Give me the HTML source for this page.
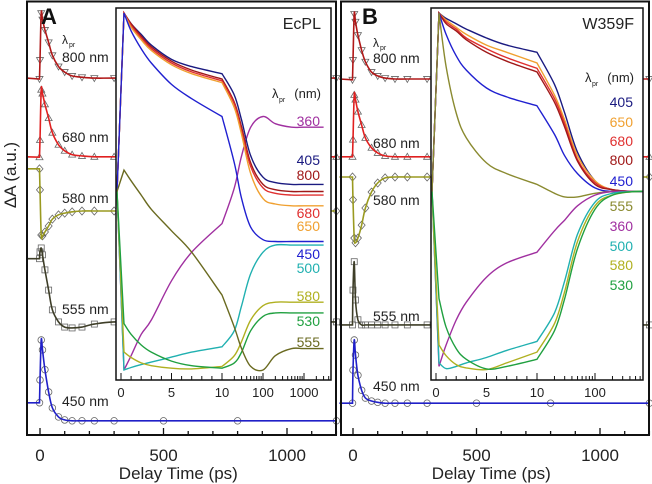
<!DOCTYPE html>
<html><head><meta charset="utf-8"><style>
body{margin:0;background:#fff;}
svg{display:block;font-family:"Liberation Sans",sans-serif;}
</style></head><body>
<svg id="fig" width="652" height="484" viewBox="0 0 652 484">
<defs>
<clipPath id="clipA"><rect x="116" y="8" width="214" height="372"/></clipPath>
<clipPath id="clipB"><rect x="430" y="8" width="213" height="371"/></clipPath>
</defs>
</svg>
<script>
// ---- main traces data ----
const mainTimes = [-55,-2,0,5,10,20,35,50,75,100,130,170,220,300,500,800,1200];
const labelsMain = ["800 nm","680 nm","580 nm","555 nm","450 nm"];
const offsetsA = [8.30,6.47,5.21,2.63,0.33];
const a800 = [0,-0.02,0.42,1.51,1.36,1.12,0.83,0.53,0.27,0.14,0.05,0.02,0,0,0,0,0];
const a680 = [0,-0.01,0.39,1.56,1.47,1.22,0.9,0.56,0.28,0.14,0.05,0.02,0,0,0,0,0];
const a580 = [0.98,0.98,0.49,-0.56,-0.58,-0.49,-0.35,-0.19,-0.09,-0.05,-0.02,0,0,0,0,0,0];
const a555 = [1.47,1.47,1.63,1.72,1.56,1.21,0.74,0.28,0,-0.12,-0.14,-0.12,-0.05,0,0,0,0];
const a450 = [0.42,0.42,0.95,1.88,1.65,1.19,0.67,0.3,0.09,0.02,0,0,0,0,0,0,0];
const offsetsB = [8.28,6.47,6.0,2.56,0.74];
const b800 = [0,-0.02,0.44,1.51,1.33,1.02,0.67,0.4,0.16,0.07,0.02,0,0,0,0,0,0];
const b680 = [0,0,0.4,1.44,1.33,1.05,0.74,0.44,0.21,0.09,0.02,0,0,0,0,0,0];
const b580 = [0,0,-0.53,-1.42,-1.53,-1.42,-1.12,-0.72,-0.35,-0.14,-0.02,0,0,0,0,0,0];
const b555 = [0,0,0.81,1.47,0.58,0.12,0,0,0,0,0,0,0,0,0,0,0];
const b450 = [0,0,0.77,1.47,1.12,0.65,0.3,0.12,0.05,0.02,0,0,0,0,0,0,0];
const mainTicks = [0,500,1000];
// ---- inset data ----
const insetTimes = [-0.4,0.3,1,2,3,5,7,10,20,30,50,100,200,500,1000,3000];
const insetLabelsA = ["360","405","800","680","650","450","500","580","530","555"];
const insetLabelsB = ["405","650","680","800","450","555","360","500","580","530"];
const iA405 = [0.5,1,0.97,0.94,0.91,0.87,0.85,0.83,0.77,0.7,0.6,0.54,0.525,0.52,0.52,0.52];
const iA800 = [0.5,1,0.97,0.935,0.905,0.865,0.84,0.815,0.75,0.68,0.58,0.52,0.505,0.5,0.5,0.5];
const iA680 = [0.5,1,0.965,0.93,0.9,0.86,0.835,0.81,0.745,0.67,0.57,0.51,0.495,0.49,0.49,0.49];
const iA650 = [0.5,1,0.96,0.925,0.895,0.855,0.83,0.805,0.735,0.66,0.55,0.48,0.465,0.46,0.46,0.46];
const iA450 = [0.5,1,0.95,0.9,0.86,0.8,0.76,0.71,0.58,0.48,0.4,0.365,0.36,0.36,0.36,0.36];
const iA360 = [0.5,0,0.04,0.1,0.14,0.25,0.33,0.41,0.51,0.6,0.68,0.71,0.69,0.68,0.68,0.68];
const iA500 = [0.5,0,0.007,0.015,0.022,0.036,0.05,0.065,0.11,0.18,0.27,0.33,0.35,0.35,0.35,0.35];
const iA580 = [0.5,0.05,0.035,0.02,0.012,0.005,0.003,0.01,0.04,0.08,0.14,0.18,0.19,0.19,0.19,0.19];
const iA530 = [0.5,0.13,0.1,0.07,0.05,0.025,0.012,0.005,0.02,0.05,0.11,0.15,0.16,0.16,0.16,0.16];
const iA555 = [0.5,0.56,0.53,0.49,0.45,0.39,0.33,0.21,0.12,0.06,0.01,0.0,0.04,0.06,0.06,0.06];
const iB405 = [0.5,1,0.985,0.97,0.955,0.93,0.91,0.89,0.8,0.72,0.61,0.53,0.505,0.5,0.5,0.5];
const iB650 = [0.5,1,0.98,0.96,0.94,0.91,0.89,0.86,0.77,0.7,0.6,0.53,0.505,0.5,0.5,0.5];
const iB680 = [0.5,1,0.975,0.955,0.93,0.9,0.875,0.845,0.76,0.69,0.59,0.525,0.505,0.5,0.5,0.5];
const iB800 = [0.5,1,0.97,0.95,0.925,0.89,0.865,0.835,0.75,0.68,0.585,0.52,0.505,0.5,0.5,0.5];
const iB450 = [0.5,1,0.94,0.88,0.84,0.79,0.765,0.74,0.66,0.6,0.55,0.51,0.5,0.5,0.5,0.5];
const iB555 = [0.5,1,0.85,0.72,0.65,0.58,0.55,0.52,0.495,0.485,0.485,0.495,0.5,0.5,0.5,0.5];
const iB360 = [0.5,0.01,0.07,0.14,0.19,0.26,0.3,0.33,0.39,0.42,0.46,0.49,0.5,0.5,0.5,0.5];
const iB500 = [0.5,0.02,0.004,0.01,0.02,0.035,0.055,0.08,0.16,0.25,0.38,0.47,0.495,0.5,0.5,0.5];
const iB580 = [0.5,0.07,0.04,0.015,0.006,0.001,0.02,0.05,0.13,0.22,0.36,0.46,0.49,0.5,0.5,0.5];
const iB530 = [0.5,0.2,0.12,0.06,0.03,0.003,0.01,0.03,0.11,0.2,0.34,0.45,0.49,0.5,0.5,0.5];
const insetTickLabels = ["0","5","10","100","1000"];
const insetTickValues = [0,5,10,100,1000];

const NS="http://www.w3.org/2000/svg";
const svg=document.getElementById('fig');
function mk(tag,attrs,parent){const e=document.createElementNS(NS,tag);for(const k in attrs)e.setAttribute(k,attrs[k]);(parent||svg).appendChild(e);return e;}
function txt(s,x,y,size,anchor,fill,parent){const t=mk('text',{x:x,y:y,'font-size':size,'text-anchor':anchor||'start',fill:fill||'#222'},parent);t.textContent=s;return t;}
function segs(pts){let d='';
 for(let i=0;i<pts.length-1;i++){const p0=pts[i-1]||pts[i],p1=pts[i],p2=pts[i+1],p3=pts[i+2]||p2;
  const c1=[p1[0]+(p2[0]-p0[0])/6,p1[1]+(p2[1]-p0[1])/6],c2=[p2[0]-(p3[0]-p1[0])/6,p2[1]-(p3[1]-p1[1])/6];
  d+='C'+c1[0].toFixed(1)+','+c1[1].toFixed(1)+' '+c2[0].toFixed(1)+','+c2[1].toFixed(1)+' '+p2[0].toFixed(1)+','+p2[1].toFixed(1);}
 return d;}
function smooth(pts){return 'M'+pts[0][0].toFixed(1)+','+pts[0][1].toFixed(1)+segs(pts);}
const yMain=v=>435-v*43;
function marker(type,x,y,g){
 const st={fill:'none',stroke:'#666','stroke-width':0.8};
 if(type==='circle')return mk('circle',Object.assign({cx:x,cy:y,r:3.3},st),g);
 if(type==='square')return mk('rect',Object.assign({x:x-3,y:y-3,width:6,height:6},st),g);
 if(type==='diamond')return mk('polygon',Object.assign({points:`${x},${y-4} ${x+3.5},${y} ${x},${y+4} ${x-3.5},${y}`},st),g);
 if(type==='tri')return mk('polygon',Object.assign({points:`${x},${y-3.5} ${x+3.5},${y+2.5} ${x-3.5},${y+2.5}`},st),g);
 return mk('polygon',Object.assign({points:`${x},${y+3.5} ${x+3.5},${y-2.5} ${x-3.5},${y-2.5}`},st),g);
}
function panel(id,x0,offsets,traces,colors,marks,labelX,labelYs,lamY,frameX,frameW){
 const g=mk('g',{});
 
 
 const xs=t=>x0+t*0.247;
 traces.forEach((arr,k)=>{
  const tg=mk('g',{},g);
  
  
  const pts=mainTimes.map((t,i)=>[xs(t),yMain(offsets[k]+arr[i])]);
  pts.forEach((p,i)=>{if(i>0)marker(marks[k],p[0],p[1],tg);});
  const d='M'+pts[0][0].toFixed(1)+','+pts[0][1].toFixed(1)+' L'+pts[1][0].toFixed(1)+','+pts[1][1].toFixed(1)+segs(pts.slice(1));
  const p=mk('path',{d:d,fill:'none',stroke:colors[k],'stroke-width':1.6},tg);
  
  
  const l=txt(labelsMain[k],labelX,labelYs[k],14,'start','#222',g);
  
  
 });
 const lam=txt('λ',labelX,lamY,12,'start','#222',g);
 
 
 txt('pr',labelX+7,lamY+3,7,'start','#222',g);
 for(let t=0;t<=1200;t+=100){const x=xs(t);mk('line',{x1:x,x2:x,y1:435,y2:t%500===0?428:431,stroke:'#111','stroke-width':1.3},g);}
 mainTicks.forEach(t=>{const l=txt(String(t),xs(t),461,17,'middle','#222',g);
  
  });
 const xt=txt('Delay Time (ps)',xs(560),479,17,'middle','#222',g);
 
 
 const fr=mk('rect',{x:frameX,y:1.5,width:frameW,height:433.5,fill:'none',stroke:'#111','stroke-width':2},g);
 
 
}
const cols=['#b01818','#e02020','#9a9a20','#3e3e28','#2020c8'];
const marks=['itri','tri','diamond','square','circle'];
panel('a',40,offsetsA,[a800,a680,a580,a555,a450],cols,marks,62,[62,142,203,314,406],44,27,309);
panel('b',353,offsetsB,[b800,b680,b580,b555,b450],cols,marks,373,[63,148,205,321,391],47,341,308);

function inset(id,x0,x10,dec,traces,colors,labels,labelYs,labX,name,clip,right){
 const g=mk('g',{});
 
 
 mk('rect',{x:x0-5,y:8,width:right-(x0-5),height:372,fill:'#fff'},g);
 const xs=t=>t<=10?x0+(x10-x0)*t/10:x10+Math.log10(t/10)*dec;
 const ys=v=>370-v*357;
 const cg=mk('g',{'clip-path':'url(#'+clip+')'},g);
 const split=insetTimes.indexOf(10);
 traces.forEach((arr,k)=>{
  const pts=insetTimes.map((t,i)=>[xs(t),ys(arr[i])]);
  let d='M'+pts[0][0].toFixed(1)+','+pts[0][1].toFixed(1)+' L'+pts[1][0].toFixed(1)+','+pts[1][1].toFixed(1);
  d+=segs(pts.slice(1,split+1))+segs(pts.slice(split));
  const p=mk('path',{d:d,fill:'none',stroke:colors[k],'stroke-width':1.4},cg);
  
  
  const l=txt(labels[k],labX,labelYs[k],14,'end',colors[k],g);
  
  
 });
 for(let t=0;t<=10;t++){const x=xs(t);mk('line',{x1:x,x2:x,y1:380,y2:t%5===0?373:376,stroke:'#111','stroke-width':1},g);}
 [10,100,1000].forEach(b=>{for(let m=1;m<10;m++){const t=b*m;const x=xs(t);if(x<right-1)mk('line',{x1:x,x2:x,y1:380,y2:m===1?373:376,stroke:'#111','stroke-width':1},g);}});
 insetTickValues.forEach((t,i)=>{const x=xs(t);if(x<right){const l=txt(insetTickLabels[i],x,397,13,'middle','#222',g);
  
  }});
 const nm=txt(name,labX+1,29,16,'end','#222',g);
 
 
 const lam=txt('λ',labX-48,labelYs.lamY,13,'start','#222',g);
 
 
 txt('pr',labX-41,labelYs.lamY+4,7,'start','#222',g);
 txt('(nm)',labX+1,labelYs.lamY,13,'end','#222',g);
 const fr=mk('rect',{x:x0-5,y:8,width:right-(x0-5),height:372,fill:'none',stroke:'#111','stroke-width':1.5},g);
 
 
}
const ly1=[126,165,180,218,231,259,273,301,326,347];ly1.lamY=98;
inset('a',121,222,41,[iA360,iA405,iA800,iA680,iA650,iA450,iA500,iA580,iA530,iA555],
 ['#a030a0','#1a1a80','#a01818','#e03030','#f0a030','#2020d0','#20b0b0','#b0b020','#20a040','#6a6a20'],
 insetLabelsA,ly1,320,'EcPL','clipA',331);
const ly2=[107,127,146,165,186,211,231,251,270,290];ly2.lamY=82;
inset('b',436,537,58,[iB405,iB650,iB680,iB800,iB450,iB555,iB360,iB500,iB580,iB530],
 ['#1a1a80','#f0a030','#e03030','#a01818','#2020d0','#8a8a30','#a030a0','#20b0b0','#b0b020','#20a040'],
 insetLabelsB,ly2,633,'W359F','clipB',643);

const A=txt('A',41,24,22,'start','#111');A.setAttribute('font-weight','bold');


const B=txt('B',362,24,22,'start','#111');B.setAttribute('font-weight','bold');


const yt=txt('ΔA (a.u.)',0,0,17,'middle','#222');
yt.setAttribute('transform','translate(16,175) rotate(-90)');


</script>
</body></html>
